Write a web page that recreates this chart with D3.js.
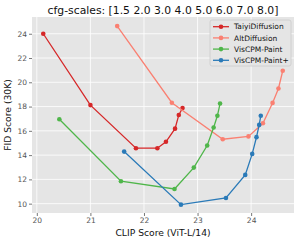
<!DOCTYPE html>
<html><head><meta charset="utf-8">
<script src="https://cdn.jsdelivr.net/npm/d3@7"></script>
<style>body{margin:0;background:#fff}svg{display:block;font-family:"DejaVu Sans",sans-serif}</style>
</head><body><svg id="c" width="300" height="243"></svg>
<script>
const seriesNames = ["TaiyiDiffusion","AltDiffusion","VisCPM-Paint","VisCPM-Paint+"];
const seriesColors = ["#d62728","#fa8072","#4fb64a","#2a7ab8"];
const taiyiClip = [20.12,21.00,21.85,22.25,22.41,22.58,22.65,22.72];
const taiyiFid  = [24.00,18.12,14.57,14.57,15.10,16.18,17.31,17.88];
const altClip = [21.50,22.52,23.47,23.95,24.22,24.40,24.51,24.59];
const altFid  = [24.63,18.32,15.31,15.54,16.62,18.30,19.49,20.95];
const cpmClip = [20.42,21.57,22.57,22.93,23.18,23.30,23.37,23.42];
const cpmFid  = [16.96,11.85,11.21,12.97,14.79,16.27,17.24,18.25];
const cpmPClip = [21.63,22.69,23.53,23.89,24.02,24.10,24.15,24.18];
const cpmPFid  = [14.29,9.92,10.47,12.37,14.10,15.48,16.49,17.24];
const xTicks = [20,21,22,23,24];
const yTicks = [10,12,14,16,18,20,22,24];
const titleText = "cfg-scales: [1.5 2.0 3.0 4.0 5.0 6.0 7.0 8.0]";
const xLabel = "CLIP Score (ViT-L/14)";
const yLabel = "FID Score (30K)";

const series = [
  {name:seriesNames[0], color:seriesColors[0], pts:d3.zip(taiyiClip,taiyiFid)},
  {name:seriesNames[1], color:seriesColors[1], pts:d3.zip(altClip,altFid)},
  {name:seriesNames[2], color:seriesColors[2], pts:d3.zip(cpmClip,cpmFid)},
  {name:seriesNames[3], color:seriesColors[3], pts:d3.zip(cpmPClip,cpmPFid)}
];

const L=32,R=294,T=17,B=213;
const svg=d3.select("#c");
const x=d3.scaleLinear().domain([19.91,24.80]).range([L,R]);
const y=d3.scaleLinear().domain([9.23,25.38]).range([B,T]);

svg.append("rect").attr("x",L).attr("y",T).attr("width",R-L).attr("height",B-T).attr("fill","#e5e5e5");
svg.append("g").selectAll("line").data(xTicks).join("line")
  .attr("x1",d=>x(d)).attr("x2",d=>x(d)).attr("y1",T).attr("y2",B)
  .attr("stroke","#fff").attr("stroke-width",0.8);
svg.append("g").selectAll("line").data(yTicks).join("line")
  .attr("y1",d=>y(d)).attr("y2",d=>y(d)).attr("x1",L).attr("x2",R)
  .attr("stroke","#fff").attr("stroke-width",0.8);

const xAxis=svg.append("g").attr("transform",`translate(0,${B})`)
  .call(d3.axisBottom(x).tickValues(xTicks).tickFormat(d3.format("d")).tickSize(3).tickPadding(2));
const yAxis=svg.append("g").attr("transform",`translate(${L},0)`)
  .call(d3.axisLeft(y).tickValues(yTicks).tickFormat(d3.format("d")).tickSize(3).tickPadding(2));
[xAxis,yAxis].forEach(a=>{
  a.select(".domain").remove();
  a.selectAll(".tick line").attr("stroke","#555").attr("stroke-width",0.8);
  a.selectAll(".tick text").attr("fill","#555").style("font-size","7.5px").style("font-family","DejaVu Sans");
});

const line=d3.line().x(d=>x(d[0])).y(d=>y(d[1]));
series.forEach(s=>{
  const g=svg.append("g");
  g.append("path").attr("d",line(s.pts)).attr("fill","none").attr("stroke",s.color).attr("stroke-width",1.3);
  g.selectAll("circle").data(s.pts).join("circle")
    .attr("cx",d=>x(d[0])).attr("cy",d=>y(d[1])).attr("r",2.3).attr("fill",s.color);
});

svg.append("text").attr("x",163).attr("y",13.5).attr("text-anchor","middle")
  .style("font-size","10.8px").attr("fill","#111").text(titleText);
svg.append("text").attr("x",163).attr("y",236).attr("text-anchor","middle")
  .style("font-size","9.2px").attr("fill","#111").text(xLabel);
svg.append("text").attr("transform",`translate(11.3,${(T+B)/2}) rotate(-90)`).attr("text-anchor","middle")
  .style("font-size","9.2px").attr("fill","#111").text(yLabel);

const lg=svg.append("g").attr("transform","translate(210,20)");
lg.append("rect").attr("x",0).attr("y",0).attr("width",81).attr("height",46).attr("rx",2)
  .attr("fill","#e5e5e5").attr("stroke","#ccc").attr("stroke-width",0.8);
series.forEach((s,i)=>{
  const yy=6.7+i*11.2;
  lg.append("line").attr("x1",3).attr("x2",19).attr("y1",yy).attr("y2",yy).attr("stroke",s.color).attr("stroke-width",1.3);
  lg.append("circle").attr("cx",11).attr("cy",yy).attr("r",2.3).attr("fill",s.color);
  lg.append("text").attr("x",24).attr("y",yy+2.6).style("font-size","7.5px").attr("fill","#111").text(s.name);
});
</script></body></html>
